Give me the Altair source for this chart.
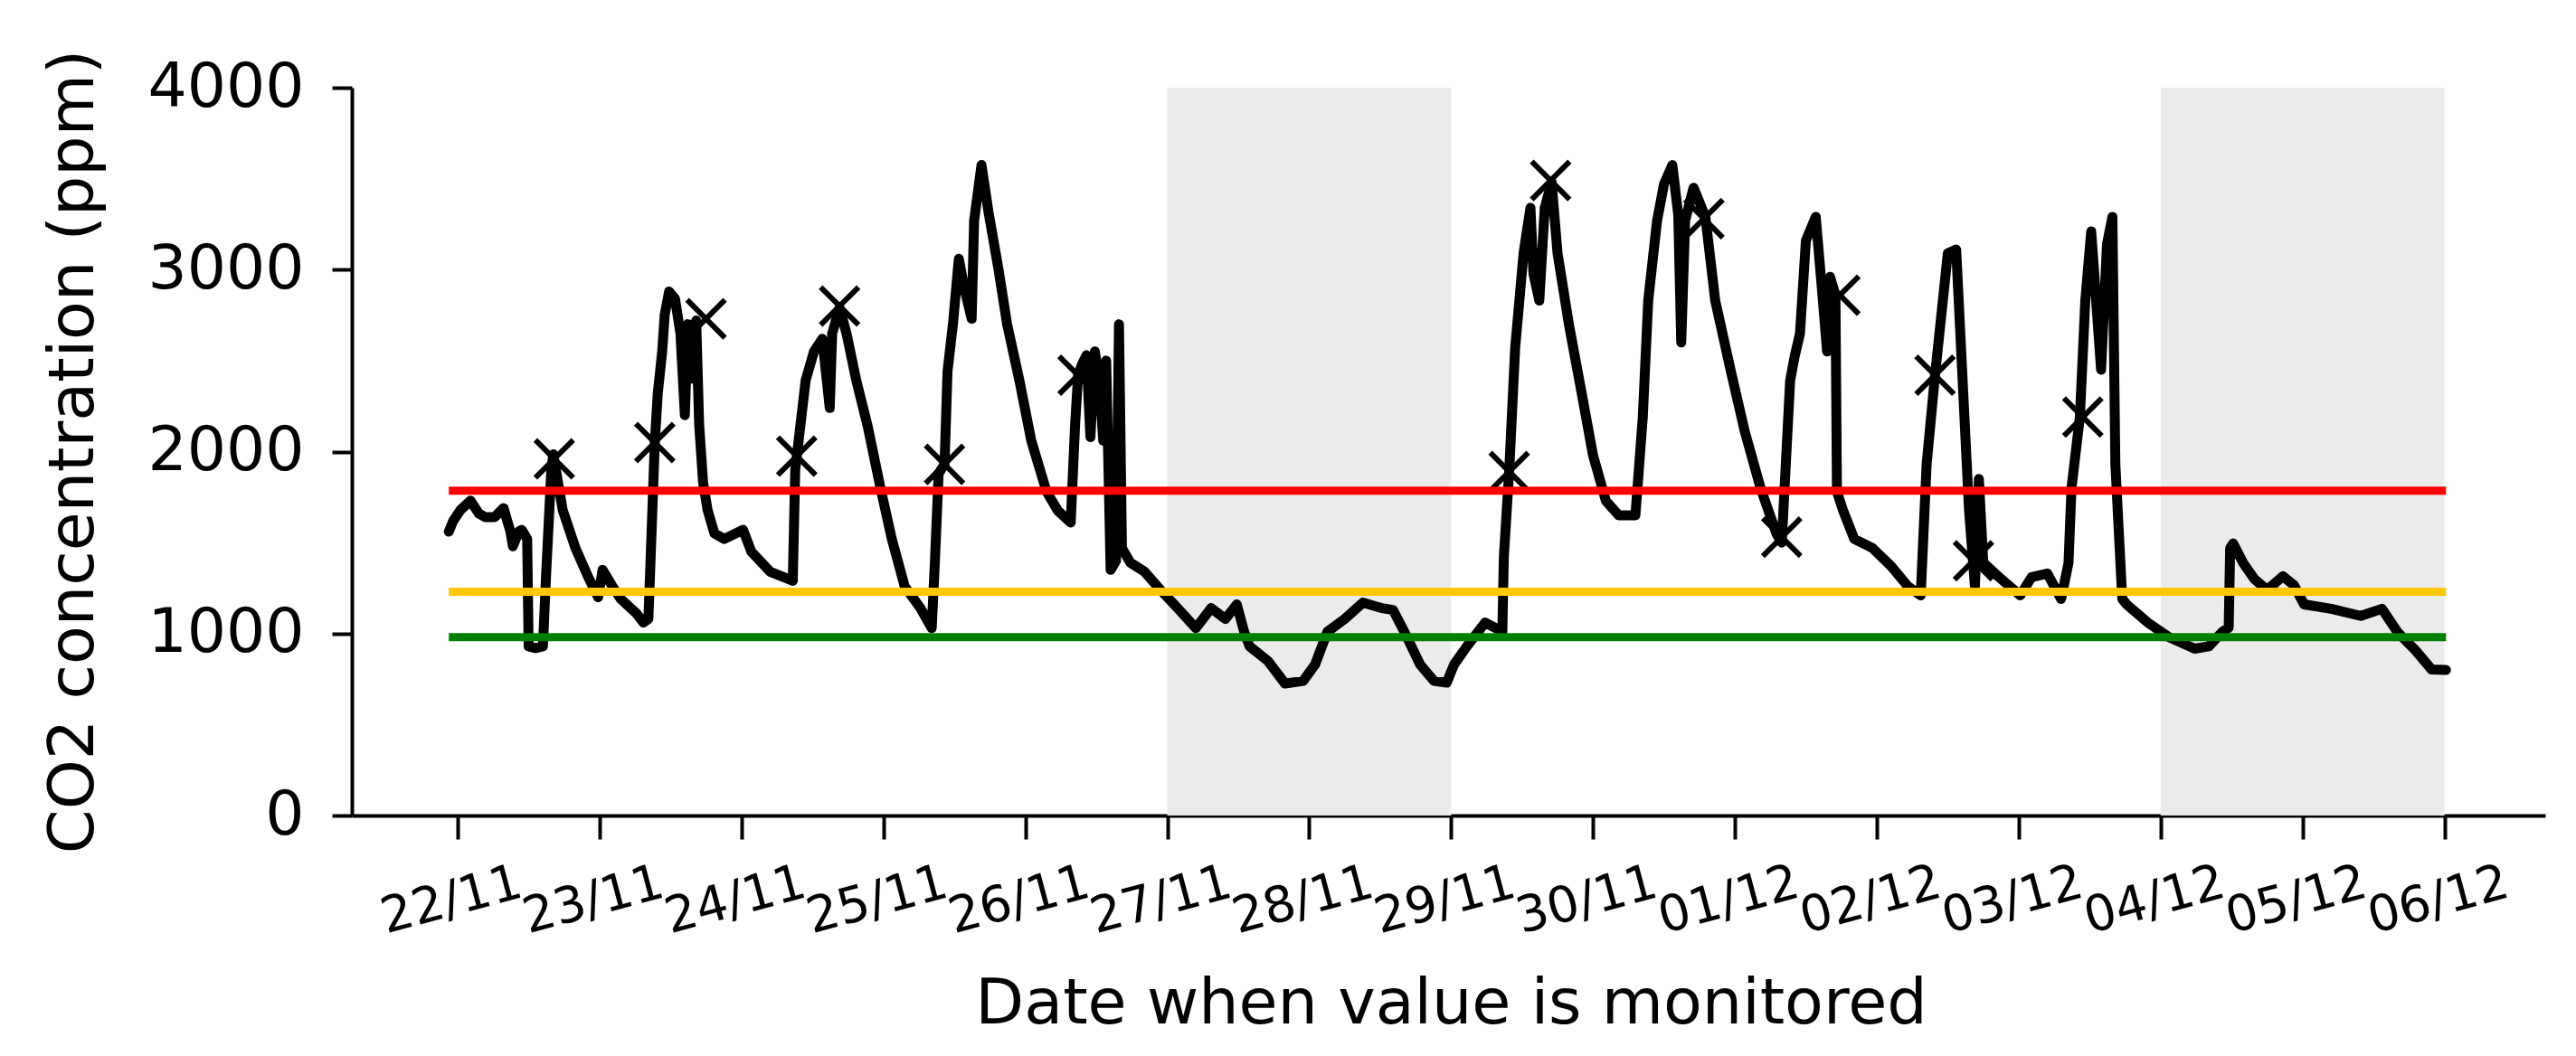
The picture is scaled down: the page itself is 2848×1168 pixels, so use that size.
import altair as alt
import pandas as pd

# ---- data ----
times = [
    "2021-11-21T22:30", "2021-11-21T23:15", "2021-11-22T00:30", "2021-11-22T02:10", "2021-11-22T03:35",
    "2021-11-22T04:40", "2021-11-22T06:15", "2021-11-22T07:45", "2021-11-22T08:55", "2021-11-22T09:20",
    "2021-11-22T10:20", "2021-11-22T10:50", "2021-11-22T11:45", "2021-11-22T12:00", "2021-11-22T13:10",
    "2021-11-22T14:25", "2021-11-22T14:55", "2021-11-22T15:50", "2021-11-22T16:10", "2021-11-22T17:45",
    "2021-11-22T19:55", "2021-11-22T22:05", "2021-11-22T23:45", "2021-11-23T00:30", "2021-11-23T02:10",
    "2021-11-23T03:35", "2021-11-23T06:15", "2021-11-23T07:25", "2021-11-23T08:15", "2021-11-23T08:40",
    "2021-11-23T09:20", "2021-11-23T09:50", "2021-11-23T10:35", "2021-11-23T11:00", "2021-11-23T11:45",
    "2021-11-23T12:45", "2021-11-23T13:40", "2021-11-23T14:25", "2021-11-23T14:55", "2021-11-23T15:50",
    "2021-11-23T16:20", "2021-11-23T16:50", "2021-11-23T17:30", "2021-11-23T18:15", "2021-11-23T19:25",
    "2021-11-23T21:05", "2021-11-24T00:15", "2021-11-24T01:40", "2021-11-24T04:50", "2021-11-24T08:40",
    "2021-11-24T09:05", "2021-11-24T09:20", "2021-11-24T10:50", "2021-11-24T12:15", "2021-11-24T13:40",
    "2021-11-24T14:55", "2021-11-24T15:20", "2021-11-24T16:35", "2021-11-24T17:45", "2021-11-24T19:25",
    "2021-11-24T21:20", "2021-11-24T23:30", "2021-11-25T01:25", "2021-11-25T03:35", "2021-11-25T06:15",
    "2021-11-25T08:10", "2021-11-25T08:40", "2021-11-25T09:20", "2021-11-25T10:20", "2021-11-25T10:50",
    "2021-11-25T11:45", "2021-11-25T12:45", "2021-11-25T13:40", "2021-11-25T14:55", "2021-11-25T15:20",
    "2021-11-25T16:35", "2021-11-25T17:45", "2021-11-25T19:25", "2021-11-25T20:55", "2021-11-25T23:00",
    "2021-11-26T01:00", "2021-11-26T03:35", "2021-11-26T05:30", "2021-11-26T07:40", "2021-11-26T08:25",
    "2021-11-26T08:55", "2021-11-26T09:35", "2021-11-26T10:20", "2021-11-26T11:00", "2021-11-26T11:45",
    "2021-11-26T12:30", "2021-11-26T13:10", "2021-11-26T13:40", "2021-11-26T14:25", "2021-11-26T15:20",
    "2021-11-26T15:50", "2021-11-26T16:20", "2021-11-26T17:45", "2021-11-26T20:10", "2021-11-26T22:50",
    "2021-11-27T01:10", "2021-11-27T04:50", "2021-11-27T07:25", "2021-11-27T09:50", "2021-11-27T11:45",
    "2021-11-27T13:00", "2021-11-27T13:55", "2021-11-27T17:00", "2021-11-27T19:55", "2021-11-27T23:00",
    "2021-11-28T01:00", "2021-11-28T03:05", "2021-11-28T06:00", "2021-11-28T09:05", "2021-11-28T12:15",
    "2021-11-28T14:10", "2021-11-28T16:05", "2021-11-28T18:45", "2021-11-28T21:05", "2021-11-28T23:15",
    "2021-11-29T00:30", "2021-11-29T02:40", "2021-11-29T05:45", "2021-11-29T08:40", "2021-11-29T08:55",
    "2021-11-29T09:50", "2021-11-29T10:50", "2021-11-29T12:15", "2021-11-29T13:25", "2021-11-29T13:55",
    "2021-11-29T14:55", "2021-11-29T15:50", "2021-11-29T17:00", "2021-11-29T18:00", "2021-11-29T19:55",
    "2021-11-29T22:05", "2021-11-30T00:00", "2021-11-30T02:10", "2021-11-30T04:20", "2021-11-30T07:10",
    "2021-11-30T08:25", "2021-11-30T09:20", "2021-11-30T10:50", "2021-11-30T12:00", "2021-11-30T13:25",
    "2021-11-30T14:25", "2021-11-30T14:55", "2021-11-30T15:35", "2021-11-30T17:00", "2021-11-30T19:00",
    "2021-11-30T20:40", "2021-11-30T23:15", "2021-12-01T01:40", "2021-12-01T04:20", "2021-12-01T07:00",
    "2021-12-01T07:55", "2021-12-01T09:20", "2021-12-01T10:05", "2021-12-01T11:00", "2021-12-01T12:00",
    "2021-12-01T13:40", "2021-12-01T14:40", "2021-12-01T15:35", "2021-12-01T16:05", "2021-12-01T17:00",
    "2021-12-01T17:15", "2021-12-01T18:15", "2021-12-01T20:10", "2021-12-01T23:15", "2021-12-02T02:25",
    "2021-12-02T05:15", "2021-12-02T07:25", "2021-12-02T08:25", "2021-12-02T09:50", "2021-12-02T11:00",
    "2021-12-02T12:00", "2021-12-02T13:25", "2021-12-02T14:25", "2021-12-02T15:35", "2021-12-02T16:35",
    "2021-12-02T17:15", "2021-12-02T18:00", "2021-12-02T20:40", "2021-12-03T00:15", "2021-12-03T02:10",
    "2021-12-03T04:50", "2021-12-03T07:10", "2021-12-03T08:25", "2021-12-03T08:55", "2021-12-03T10:20",
    "2021-12-03T11:15", "2021-12-03T12:15", "2021-12-03T13:55", "2021-12-03T14:55", "2021-12-03T15:50",
    "2021-12-03T16:20", "2021-12-03T17:30", "2021-12-03T18:15", "2021-12-03T21:50", "2021-12-04T01:25",
    "2021-12-04T05:45", "2021-12-04T08:10", "2021-12-04T10:20", "2021-12-04T11:30", "2021-12-04T11:45",
    "2021-12-04T12:15", "2021-12-04T13:55", "2021-12-04T15:50", "2021-12-04T18:00", "2021-12-04T20:40",
    "2021-12-04T22:35", "2021-12-05T00:15", "2021-12-05T04:50", "2021-12-05T09:50", "2021-12-05T13:25",
    "2021-12-05T16:05", "2021-12-05T19:10", "2021-12-05T21:50", "2021-12-06T00:15",
]
co2 = [
    1560, 1620, 1680, 1730, 1660,
    1640, 1640, 1690, 1560, 1480,
    1560, 1570, 1520, 930, 920,
    930, 1300, 1900, 1985, 1680,
    1470, 1310, 1200, 1350, 1260,
    1190, 1110, 1060, 1080, 1450,
    2050, 2320, 2550, 2750, 2880,
    2840, 2650, 2200, 2700, 2400,
    2720, 2150, 1830, 1680, 1550,
    1520, 1570, 1450, 1340, 1290,
    1900, 1970, 2390, 2550, 2620,
    2240, 2650, 2790, 2650, 2390,
    2140, 1800, 1520, 1260, 1140,
    1030, 1370, 1880, 1930, 2440,
    2700, 3060, 2900, 2730, 3270,
    3575, 3320, 3010, 2700, 2390,
    2060, 1780, 1675, 1610, 2150,
    2420, 2480, 2530, 2080, 2550,
    2400, 2060, 2500, 1350, 1400,
    2700, 1470, 1390, 1340, 1240,
    1160, 1030, 1140, 1080, 1160,
    1010, 930, 850, 725, 740,
    830, 1010, 1080, 1170, 1140,
    1130, 1010, 830, 740, 730,
    830, 930, 1060, 1010, 1420,
    1900, 2570, 3090, 3340, 2980,
    2830, 3340, 3480, 3090, 2700,
    2320, 1980, 1730, 1650, 1650,
    2190, 2830, 3270, 3470, 3575,
    3300, 2600, 3270, 3450, 3290,
    2830, 2450, 2110, 1800, 1550,
    1500, 2390, 2520, 2650, 3160,
    3290, 2910, 2550, 2960, 2860,
    1780, 1680, 1520, 1470, 1370,
    1260, 1210, 1930, 2420, 2780,
    3090, 3110, 2450, 1680, 1260,
    1850, 1390, 1310, 1210, 1310,
    1330, 1190, 1390, 1800, 2190,
    2830, 3210, 2450, 3140, 3290,
    1930, 1190, 1160, 1060, 980,
    917, 930, 1007, 1033, 1470,
    1495, 1390, 1300, 1240, 1315,
    1264, 1160, 1136, 1097, 1136,
    1007, 905, 802, 800,
]

marker_times = [
    "2021-11-22T16:20", "2021-11-23T09:20", "2021-11-23T18:00", "2021-11-24T09:20", "2021-11-24T16:35",
    "2021-11-25T10:20", "2021-11-26T08:55", "2021-11-29T09:50", "2021-11-29T16:50", "2021-11-30T18:45",
    "2021-12-01T07:55", "2021-12-01T17:45", "2021-12-02T09:50", "2021-12-02T16:20", "2021-12-03T10:50",
]
marker_co2 = [1960, 2050, 2730, 1975, 2800, 1930, 2420, 1890, 3490, 3280, 1530, 2860, 2420, 1400, 2190]

band_start = ["2021-11-27T00:00", "2021-12-04T00:00"]
band_end = ["2021-11-29T00:00", "2021-12-06T00:00"]

threshold_values = [1785, 1230, 980]
threshold_colors = ["#ff0000", "#ffc800", "#008000"]
threshold_start = "2021-11-21T22:30"
threshold_end = "2021-12-06T00:15"

tick_days = [(11, d) for d in range(22, 31)] + [(12, d) for d in range(1, 7)]
y_ticks = [0, 1000, 2000, 3000, 4000]

# ---- tables ----
line_df = pd.DataFrame({"time": times, "co2": co2})
marker_df = pd.DataFrame({"time": marker_times, "co2": marker_co2})
band_df = pd.DataFrame({"start": band_start, "end": band_end})
thr_df = pd.DataFrame({
    "start": [threshold_start] * len(threshold_values),
    "end": [threshold_end] * len(threshold_values),
    "value": threshold_values,
    "color": threshold_colors,
})

FONT = "DejaVu Sans"
x_title = "Date when value is monitored"
y_title = "CO2 concentration (ppm)"

x_scale = alt.Scale(domain=[
    alt.DateTime(year=2021, month=11, date=21, hours=6, minutes=6),
    alt.DateTime(year=2021, month=12, date=6, hours=17, minutes=2),
])
y_scale = alt.Scale(domain=[0, 4000], nice=False, zero=True)

x_axis = alt.Axis(
    values=[alt.DateTime(year=2021, month=m, date=d) for m, d in tick_days],
    format="%d/%m", labelAngle=345, labelFontSize=55, labelAlign="center",
    labelBaseline="top", labelPadding=42, labelOffset=-14, labelOverlap=False,
    labelFlush=False, tickSize=26, tickWidth=4, domainWidth=4,
    titleFontSize=70, titleX=1215, titleY=229, titleBaseline="alphabetic",
    titleAlign="center",
)
y_axis = alt.Axis(
    values=y_ticks, format="d", labelFontSize=68, tickSize=22, tickWidth=4,
    domainWidth=4, labelPadding=31, titleFontSize=70, titleX=-287, titleY=402,
    titleAngle=270, titleBaseline="alphabetic", titleAlign="center",
)

def X(field):
    return alt.X(f"{field}:T", scale=x_scale, axis=x_axis, title=x_title)

def Y(field):
    return alt.Y(f"{field}:Q", scale=y_scale, axis=y_axis, title=y_title)

bands = alt.Chart(band_df).mark_rect(color="#ebebeb").encode(
    x=X("start"), x2="end:T", y=alt.datum(0), y2=alt.datum(4000)
)

line = alt.Chart(line_df).mark_line(
    color="black", strokeWidth=11, strokeJoin="round", strokeCap="round"
).encode(x=X("time"), y=Y("co2"))

markers = alt.Chart(marker_df).mark_point(
    shape="M-1,-1L1,1M-1,1L1,-1", size=1750, filled=False, color="black",
    strokeWidth=6, opacity=1
).encode(x=X("time"), y=Y("co2"))

rules = alt.Chart(thr_df).mark_rule(strokeWidth=9).encode(
    x=X("start"), x2="end:T", y=Y("value"),
    color=alt.Color("color:N", scale=None),
)

chart = alt.layer(bands, line, markers, rules).properties(
    width=2425, height=805,
    autosize=alt.AutoSizeParams(type="none"),
    padding={"left": 381, "top": 89, "right": 20, "bottom": 250},
).configure_axis(
    labelFont=FONT, titleFont=FONT, labelColor="black", titleColor="black",
    domainColor="black", tickColor="black", grid=False, titleFontWeight="normal",
).configure_view(stroke=None)

chart.save("out.html", embed_options={"renderer": "svg", "actions": False})
